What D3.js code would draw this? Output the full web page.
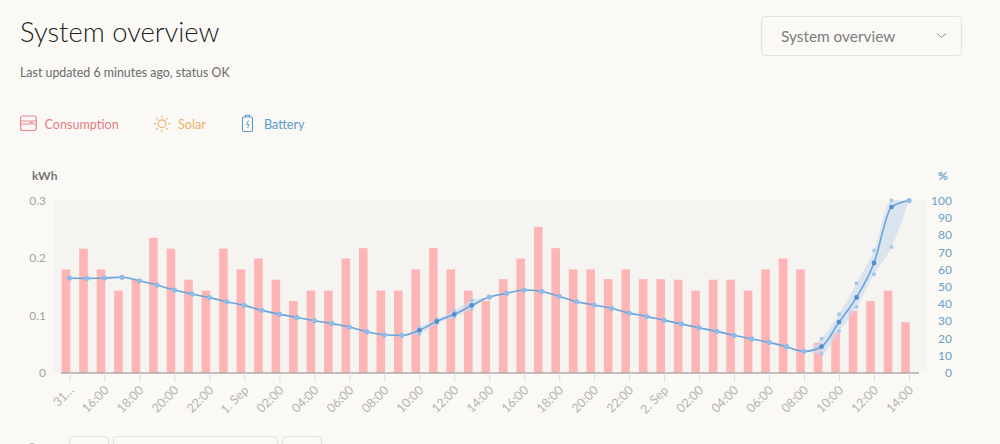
<!DOCTYPE html>
<html>
<head>
<meta charset="utf-8">
<style>
  html, body { margin: 0; padding: 0; background: #faf9f6; overflow: hidden; }
  svg { display: block; font-family: Lato, "Open Sans", sans-serif; }
  .axis path.domain { display: none; }
</style>
<script src="https://cdn.jsdelivr.net/npm/d3@7"></script>
</head>
<body>
<svg id="chart" width="1000" height="444"></svg>
<script>
// Hourly samples from 31 Aug 14:00 to 2 Sep 14:00
const hourLabels = ["31...","15","16:00","17","18:00","19","20:00","21","22:00","23","1. Sep","01","02:00","03","04:00","05","06:00","07","08:00","09","10:00","11","12:00","13","14:00","15","16:00","17","18:00","19","20:00","21","22:00","23","2. Sep","01","02:00","03","04:00","05","06:00","07","08:00","09","10:00","11","12:00","13","14:00"];
const consumption = [0.18,0.216,0.18,0.143,0.162,0.235,0.216,0.162,0.143,0.216,0.18,0.199,0.162,0.125,0.143,0.143,0.199,0.217,0.143,0.143,0.18,0.217,0.18,0.143,0.125,0.163,0.199,0.254,0.217,0.18,0.18,0.163,0.18,0.163,0.163,0.162,0.143,0.162,0.162,0.143,0.18,0.199,0.18,0.052,0.07,0.108,0.125,0.143,0.088];
const batteryAvg = [55,54.8,55,55.4,53.4,50.9,48,45.7,43.6,41.2,39.1,36.2,34,32.1,30.2,28.6,26.5,23.8,22,21.7,24.6,29.8,33.9,39.1,43.9,46.1,48,47.2,44.3,41.2,39.3,37.4,34.6,32.7,30.4,28.3,26.1,24,21.7,19.6,17.6,15.1,12.4,15.1,29.4,43.7,63.7,96.2,100];
const batteryMin = [55,54.8,55,55.4,53.4,50.9,48,45.7,43.6,41.2,39.1,36.2,34,32.1,30.2,28.6,26.5,23.8,22,21.7,22.5,28.6,32.3,37.2,43.9,46.1,48,47.2,44.3,41.2,39.3,37.4,34.6,32.7,30.4,28.3,26.1,24,21.7,19.6,17.6,15.1,12.4,11,24,38.1,57.1,73,100];
const batteryMax = [55,54.8,55,55.4,53.4,50.9,48,45.7,43.6,41.2,39.1,36.2,34,32.1,30.2,28.6,26.5,23.8,22,21.7,26.3,31.2,36,42.1,43.9,46.1,48,47.2,44.3,41.2,39.3,37.4,34.6,32.7,30.4,28.3,26.1,24,21.7,19.6,17.6,15.1,12.4,19.7,34,52,71,100,100];
const kwhTicks = [0,0.1,0.2,0.3];
const percentTicks = [0,10,20,30,40,50,60,70,80,90,100];

const svg = d3.select("#chart");
const hours = d3.range(hourLabels.length);

const x = d3.scalePoint().domain(hours).range([69.5, 909]);
const yKwh = d3.scaleLinear().domain([0, 0.3]).range([372.7, 200.5]);
const yPct = d3.scaleLinear().domain([0, 100]).range([372.7, 200.5]);

// Page header
svg.append("text").attr("x", 20).attr("y", 42).attr("font-size", 27.4).attr("font-weight", 300).attr("fill", "#1f1f1f").text("System overview");
svg.append("text").attr("x", 20).attr("y", 77).attr("font-size", 12.4).attr("fill", "#6a6a6a").text("Last updated 6 minutes ago, status OK");

// View selector
svg.append("rect").attr("x", 761.5).attr("y", 16.5).attr("width", 200).attr("height", 39).attr("rx", 4)
  .attr("fill", "#faf9f6").attr("stroke", "#e5e3df").attr("stroke-width", 1.2);
svg.append("text").attr("x", 781).attr("y", 42).attr("font-size", 15.4).attr("fill", "#7d7d7b").text("System overview");
svg.append("path").attr("d", "M937 33.5l4.5 4 4.5-4").attr("fill", "none").attr("stroke", "#8f8f8d").attr("stroke-width", 1);

// Legend
const legendText = [["Consumption", 44.5, "#e57d80"], ["Solar", 178, "#eeb169"], ["Battery", 264, "#5d9bc8"]];
svg.selectAll(".legend-label").data(legendText).join("text").attr("class", "legend-label")
  .attr("x", d => d[1]).attr("y", 129).attr("font-size", 12.6).attr("fill", d => d[2]).text(d => d[0]);

const wallet = svg.append("g").attr("fill", "none").attr("stroke", "#e8898b").attr("stroke-width", 1.2);
wallet.append("rect").attr("x", 20.6).attr("y", 116).attr("width", 15.6).attr("height", 14.5).attr("rx", 2);
wallet.append("path").attr("d", "M20.6 121h15.6M20.6 124h15.6M29 122.5h4");

const sun = svg.append("g").attr("fill", "none").attr("stroke", "#eeb169").attr("stroke-width", 1.1);
sun.append("circle").attr("cx", 162).attr("cy", 123.7).attr("r", 3.8);
sun.selectAll("line").data(d3.range(8)).join("line")
  .attr("x1", d => 162 + 6 * Math.cos(d * Math.PI / 4)).attr("y1", d => 123.7 + 6 * Math.sin(d * Math.PI / 4))
  .attr("x2", d => 162 + 8.2 * Math.cos(d * Math.PI / 4)).attr("y2", d => 123.7 + 8.2 * Math.sin(d * Math.PI / 4));

const cell = svg.append("g").attr("fill", "none").attr("stroke", "#5d9bc8").attr("stroke-width", 1.1);
cell.append("rect").attr("x", 242.5).attr("y", 117).attr("width", 10).attr("height", 14.5).attr("rx", 1.5);
cell.append("path").attr("d", "M245.5 117v-1.8h4v1.8");
cell.append("path").attr("d", "M248.5 120.5l-2 4h2.5l-1.5 3.5").attr("stroke-width", 0.9);

// Plot background and axis titles
svg.append("rect").attr("x", 53).attr("y", 200.5).attr("width", 874).attr("height", 172.2).attr("fill", "#f5f4f1");
svg.append("text").attr("x", 32).attr("y", 180).attr("font-size", 12).attr("font-weight", 700).attr("fill", "#757573").text("kWh");
svg.append("text").attr("x", 943).attr("y", 180).attr("font-size", 12).attr("text-anchor", "middle").attr("font-weight", 700).attr("fill", "#6aa0c8").text("%");

// Hourly consumption bars end at their sample time
const barWidth = 8.6;
svg.append("g").selectAll("rect").data(hours).join("rect")
  .attr("x", i => x(i) - barWidth + 0.8)
  .attr("y", i => yKwh(consumption[i]))
  .attr("width", barWidth)
  .attr("height", i => yKwh(0) - yKwh(consumption[i]))
  .attr("fill", "#feb5b5");

// Baseline and axes
svg.append("line").attr("x1", 61).attr("x2", 919).attr("y1", 373).attr("y2", 373).attr("stroke", "#8a8886").attr("stroke-width", 1);

const xAxis = d3.axisBottom(x)
  .tickValues(hours.filter(i => i % 2 === 0))
  .tickFormat(i => hourLabels[i])
  .tickSize(9).tickPadding(5);
const xGroup = svg.append("g").attr("class", "axis").attr("transform", "translate(0,373)").call(xAxis);
xGroup.selectAll(".tick line").attr("stroke", "#d5ddee");
xGroup.selectAll(".tick text")
  .attr("font-size", 12.4).attr("font-family", "Lato, sans-serif").attr("fill", "#b5b4b1")
  .attr("text-anchor", "end").attr("y", 0).attr("dy", 0)
  .attr("transform", "translate(4.5,18) rotate(-45)");

const leftAxis = d3.axisLeft(yKwh).tickValues(kwhTicks).tickSize(0).tickPadding(7)
  .tickFormat(d => d === 0 ? "0" : d3.format(".1f")(d));
const leftGroup = svg.append("g").attr("class", "axis").attr("transform", "translate(53,0)").call(leftAxis);
leftGroup.selectAll("text").attr("font-size", 12).attr("font-family", "Lato, sans-serif").attr("fill", "#a5a4a1");

const rightAxis = d3.axisRight(yPct).tickValues(percentTicks).tickSize(0).tickPadding(0);
const rightGroup = svg.append("g").attr("class", "axis").attr("transform", "translate(952,0)").call(rightAxis);
rightGroup.selectAll("text").attr("font-size", 12).attr("font-family", "Lato, sans-serif")
  .attr("fill", "#6aa0c8").attr("text-anchor", "end").attr("x", 0);

// Battery state of charge: min/max band, average line and markers
const band = d3.area().x(i => x(i)).y0(i => yPct(batteryMin[i])).y1(i => yPct(batteryMax[i])).curve(d3.curveMonotoneX);
svg.append("path").datum(hours).attr("d", band).attr("fill", "#c9dcee").attr("fill-opacity", 0.65);

const avgLine = d3.line().x(i => x(i)).y(i => yPct(batteryAvg[i])).curve(d3.curveMonotoneX);
svg.append("path").datum(hours).attr("d", avgLine).attr("fill", "none").attr("stroke", "#6ba3dc").attr("stroke-width", 1.6);

const spread = hours.filter(i => batteryMax[i] - batteryMin[i] > 0.01);
for (const series of [batteryMin, batteryMax]) {
  svg.append("g").selectAll("circle").data(spread).join("circle")
    .attr("cx", i => x(i)).attr("cy", i => yPct(series[i])).attr("r", 2).attr("fill", "#a9c8e8");
}
svg.append("g").selectAll("circle").data(hours).join("circle")
  .attr("cx", i => x(i)).attr("cy", i => yPct(batteryAvg[i])).attr("r", i => spread.includes(i) ? 2.4 : 2.6)
  .attr("fill", i => spread.includes(i) ? "#4f8fd0" : "#90bde8");

// Range controls below the chart
const controls = [[69.5, 39], [113.5, 164], [282.5, 39]];
svg.append("g").selectAll("rect").data(controls).join("rect")
  .attr("x", d => d[0]).attr("y", 436.5).attr("width", d => d[1]).attr("height", 30).attr("rx", 4)
  .attr("fill", "none").attr("stroke", "#e5e3df").attr("stroke-width", 1.2);
svg.append("circle").attr("cx", 32).attr("cy", 448).attr("r", 5).attr("fill", "#b5b4b1");
</script>
</body>
</html>
